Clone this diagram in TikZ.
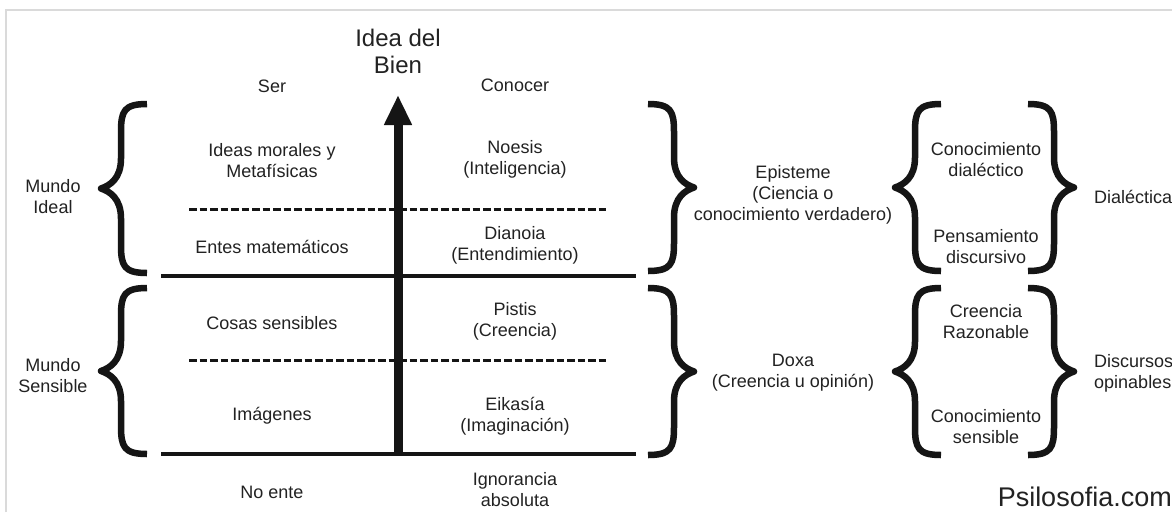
\documentclass[tikz,border=0pt]{standalone}
\usepackage{fontspec}
\setmainfont{Liberation Sans}
\usetikzlibrary{arrows.meta}
\definecolor{ink}{HTML}{151515}
\definecolor{txt}{HTML}{222222}
\definecolor{frame}{HTML}{DADADA}
\newcommand\mybrace[4]{%
  \pgfmathsetmacro\myT{#1}%
  \pgfmathsetmacro\myS{#1+20*#2}%
  \pgfmathsetmacro\myE{#1+46*#2}%
  \pgfmathsetmacro\myM{(#3+#4)/2}%
  \draw[bracestyle] (\myE,#3) .. controls ({\myS+3*#2},#3) and (\myS,{#3+7}) .. (\myS,{#3+28})
    -- (\myS,{\myM-30}) .. controls (\myS,{\myM-10}) and ({\myT+9*#2},{\myM-3}) .. (\myT,\myM)
    .. controls ({\myT+9*#2},{\myM+3}) and (\myS,{\myM+10}) .. (\myS,{\myM+30})
    -- (\myS,{#4-28}) .. controls (\myS,{#4-7}) and ({\myS+3*#2},#4) .. (\myE,#4);}
\begin{document}
\begin{tikzpicture}[x=1pt,y=-1pt,
  lbl/.style={text=txt,align=center,inner sep=0pt,font=\fontsize{18}{21}\selectfont},
  title/.style={text=txt,align=center,inner sep=0pt,font=\fontsize{24}{27}\selectfont},
  bracestyle/.style={draw=ink,line width=6.5pt,line cap=butt,line join=round},
  rule/.style={draw=ink,line width=4pt},
  dashrule/.style={draw=ink,line width=3pt,dash pattern=on 7.5pt off 3pt},
  bigarrow/.style={draw=ink,line width=9pt,-{Triangle[length=30pt,width=26pt]}}]
\useasboundingbox (0,0) rectangle (1172,512);
\fill[white] (0,0) rectangle (1172,512);
\draw[frame,line width=1.2pt] (6,512) -- (6,10) -- (1172,10);

% rules
\coordinate (r1a) at (161,276); \coordinate (r1b) at (636,276);
\coordinate (r2a) at (161,454); \coordinate (r2b) at (636,454);
\coordinate (d1a) at (189,209); \coordinate (d1b) at (608,209);
\coordinate (d2a) at (189,360); \coordinate (d2b) at (608,360);
\draw[rule] (r1a) -- (r1b);
\draw[rule] (r2a) -- (r2b);
\draw[dashrule] (d1a) -- (d1b);
\draw[dashrule] (d2a) -- (d2b);

% arrow
\coordinate (arrbase) at (398,454);
\coordinate (arrtop) at (398,95);
\draw[bigarrow] (arrbase) -- (arrtop);

% braces
\mybrace{101}{1}{104}{273}
\mybrace{101}{1}{288}{454}
\mybrace{694}{-1}{104}{271}
\mybrace{694}{-1}{288}{455}
\mybrace{895}{1}{104}{271}
\mybrace{895}{1}{288}{455}
\mybrace{1074}{-1}{104}{271}
\mybrace{1074}{-1}{288}{455}

% texts
\node[title] (bien) at (398,51) {Idea del\\Bien};
\node[lbl] (ser) at (272,86) {Ser};
\node[lbl] (conocer) at (515,85) {Conocer};
\node[lbl] (mideal) at (53,197) {Mundo\\Ideal};
\node[lbl] (msens) at (53,376) {Mundo\\Sensible};
\node[lbl] (ideas) at (272,161) {Ideas morales y\\Metafísicas};
\node[lbl] (noesis) at (515,159) {Noesis\\(Inteligencia)};
\node[lbl] (entes) at (272,247) {Entes matemáticos};
\node[lbl] (dianoia) at (515,245) {Dianoia\\(Entendimiento)};
\node[lbl] (cosas) at (272,323) {Cosas sensibles};
\node[lbl] (pistis) at (515,321) {Pistis\\(Creencia)};
\node[lbl] (imag) at (272,416) {Imágenes};
\node[lbl] (eikasia) at (515,416) {Eikasía\\(Imaginación)};
\node[lbl] (noente) at (272,492) {No ente};
\node[lbl] (ignor) at (515,490) {Ignorancia\\absoluta};
\node[lbl] (episteme) at (793,195) {Episteme\\(Ciencia o\\conocimiento verdadero)};
\node[lbl] (doxa) at (793,373) {Doxa\\(Creencia u opinión)};
\node[lbl] (cdial) at (986,160) {Conocimiento\\dialéctico};
\node[lbl] (pdisc) at (986,247) {Pensamiento\\discursivo};
\node[lbl] (crazon) at (986,322) {Creencia\\Razonable};
\node[lbl] (csens) at (986,427) {Conocimiento\\sensible};
\node[lbl,anchor=west,align=left] (dialectica) at (1094,197) {Dialéctica};
\node[lbl,anchor=west,align=left] (discursos) at (1094,373) {Discursos\\opinables};
\node[text=txt,inner sep=0pt,anchor=east,font=\fontsize{27}{30}\selectfont] (psil) at (1172,497) {Psilosofia.com};
\end{tikzpicture}
\end{document}
